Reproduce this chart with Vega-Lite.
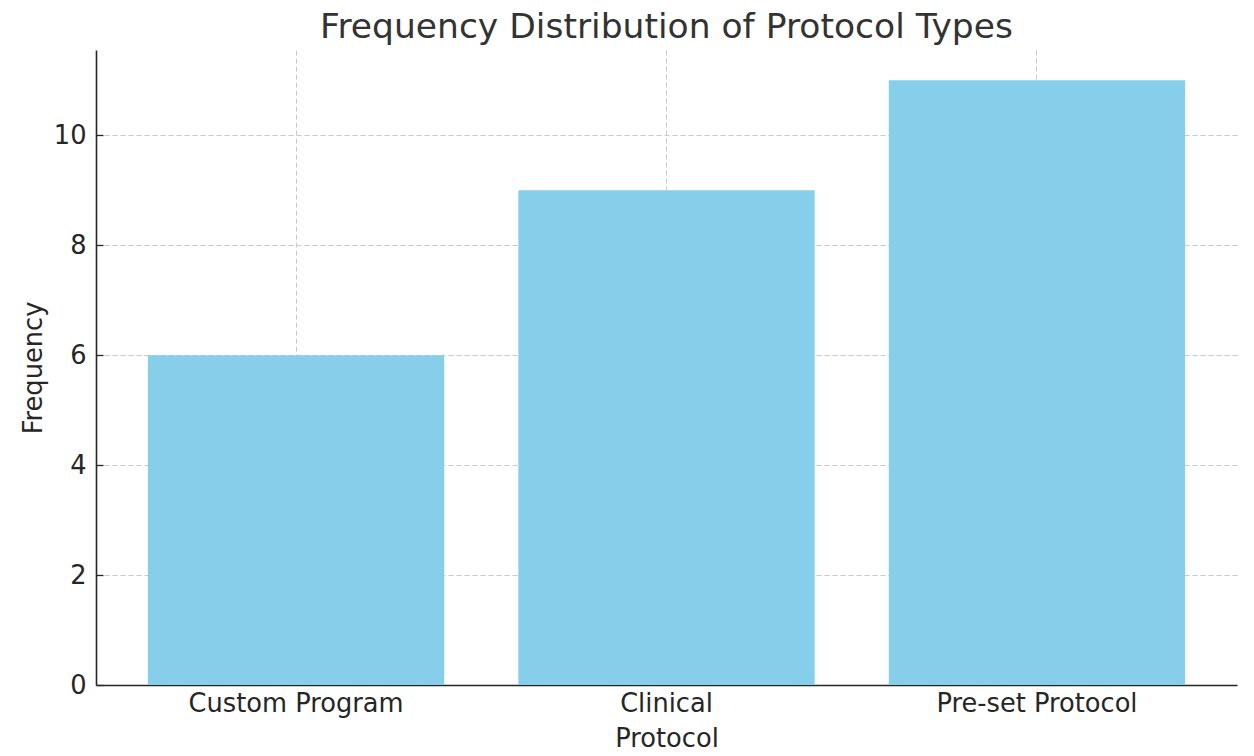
{
  "$schema": "https://vega.github.io/schema/vega-lite/v6.json",
  "description": "Bar chart of protocol type frequencies.",
  "autosize": "none",
  "width": 1141,
  "height": 635,
  "padding": {"left": 96, "top": 50, "right": 17, "bottom": 71},
  "background": "white",
  "title": {
    "text": "Frequency Distribution of Protocol Types",
    "anchor": "middle",
    "fontSize": 34.5,
    "font": "DejaVu Sans",
    "fontWeight": "normal",
    "color": "#333333",
    "baseline": "bottom",
    "offset": 5,
    "dy": 34
  },
  "data": {
    "values": [
      {"Protocol": "Custom Program", "Frequency": 6},
      {"Protocol": "Clinical", "Frequency": 9},
      {"Protocol": "Pre-set Protocol", "Frequency": 11}
    ]
  },
  "mark": {"type": "bar", "color": "#87CEEB"},
  "encoding": {
    "x": {
      "field": "Protocol",
      "type": "nominal",
      "sort": null,
      "scale": {"paddingInner": 0.2, "paddingOuter": 0.14},
      "axis": {
        "title": "Protocol",
        "labelAngle": 0,
        "bandPosition": 0.5,
        "labelPadding": 13,
        "labelLimit": 0,
        "titleY": 53,
        "titleBaseline": "middle"
      }
    },
    "y": {
      "field": "Frequency",
      "type": "quantitative",
      "scale": {"domain": [0, 11.55], "nice": false},
      "axis": {
        "title": "Frequency",
        "values": [0, 2, 4, 6, 8, 10],
        "labelPadding": 17,
        "titleX": -63,
        "titleBaseline": "middle"
      }
    }
  },
  "config": {
    "view": {"stroke": null},
    "axis": {
      "labelFont": "DejaVu Sans",
      "titleFont": "DejaVu Sans",
      "labelFontSize": 25.7,
      "titleFontSize": 25.7,
      "titleFontWeight": "normal",
      "labelColor": "#262626",
      "titleColor": "#262626",
      "domainColor": "#262626",
      "domainWidth": 1.6,
      "tickColor": "#262626",
      "tickWidth": 1.3,
      "tickSize": -7,
      "grid": true,
      "gridColor": "#c8c8c8",
      "gridDash": [5, 3],
      "gridWidth": 1
    }
  }
}
